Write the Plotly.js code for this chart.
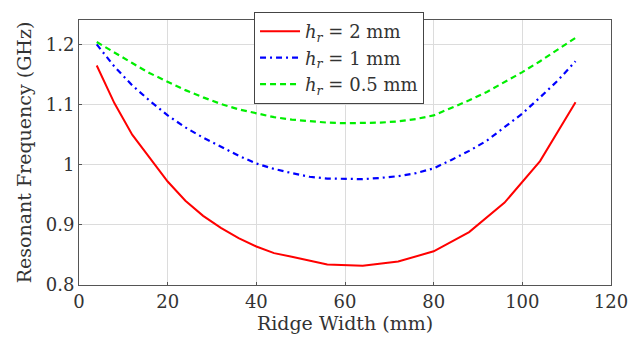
<!DOCTYPE html>
<html>
<head>
<meta charset="utf-8">
<script src="https://cdn.plot.ly/plotly-3.0.1.min.js"></script>
<style>html,body{margin:0;padding:0;background:#fff;}#chart{width:630px;height:340px;}</style>
</head>
<body>
<div id="chart"></div>
<script>
const xRed = [4, 8, 12, 16, 20, 24, 28, 32, 36, 40, 44, 48, 52, 56, 64, 72, 80, 88, 96, 104, 112];
const yRed = [1.165, 1.102, 1.050, 1.010, 0.972, 0.940, 0.915, 0.895, 0.878, 0.864, 0.853, 0.847, 0.840, 0.834, 0.832, 0.839, 0.856, 0.888, 0.937, 1.006, 1.104];

const xBlue = [4, 8, 12, 16, 20, 24, 28, 32, 36, 40, 44, 48, 52, 56, 60, 64, 68, 72, 76, 80, 84, 88, 92, 96, 100, 104, 108, 112];
const yBlue = [1.200, 1.163, 1.132, 1.106, 1.082, 1.062, 1.045, 1.030, 1.015, 1.002, 0.993, 0.986, 0.980, 0.977, 0.976, 0.976, 0.978, 0.981, 0.986, 0.994, 1.008, 1.023, 1.040, 1.062, 1.085, 1.112, 1.140, 1.172];

const xGreen = [4, 8, 12, 16, 20, 24, 28, 32, 36, 40, 44, 48, 52, 56, 60, 64, 68, 72, 76, 80, 84, 88, 92, 96, 100, 104, 108, 112];
const yGreen = [1.204, 1.186, 1.169, 1.152, 1.138, 1.124, 1.112, 1.101, 1.092, 1.085, 1.079, 1.075, 1.072, 1.070, 1.069, 1.069, 1.070, 1.072, 1.076, 1.082, 1.094, 1.107, 1.121, 1.137, 1.154, 1.172, 1.191, 1.211];

const names = ["<i>h</i><sub><i>r</i></sub> = 2 mm", "<i>h</i><sub><i>r</i></sub> = 1 mm", "<i>h</i><sub><i>r</i></sub> = 0.5 mm"];
const xTicks = [0, 20, 40, 60, 80, 100, 120];
const yTicks = [0.8, 0.9, 1, 1.1, 1.2];
const yTickText = ["0.8", "0.9", "1", "1.1", "1.2"];

const FONT = "DejaVu Serif";

const traces = [
  {x: xRed, y: yRed, name: names[0], mode: "lines", line: {color: "#ff0000", width: 2, dash: "solid"}},
  {x: xBlue, y: yBlue, name: names[1], mode: "lines", line: {color: "#0000ff", width: 2.2, dash: "6px,4px,2px,4px"}},
  {x: xGreen, y: yGreen, name: names[2], mode: "lines", line: {color: "#00ee00", width: 2.2, dash: "6px,4px"}}
];

const layout = {
  width: 630, height: 340,
  margin: {l: 79, r: 19, t: 17, b: 55},
  paper_bgcolor: "#fff", plot_bgcolor: "#fff",
  font: {family: FONT, size: 18, color: "#333"},
  showlegend: true,
  legend: {
    x: 0.329, y: 1.03, xanchor: "left", yanchor: "top",
    bgcolor: "#fff", bordercolor: "#444", borderwidth: 1,
    font: {family: FONT, size: 18, color: "#333"},
    itemwidth: 40, tracegroupgap: 0
  },
  xaxis: {
    range: [0, 120], tickvals: xTicks, ticktext: xTicks.map(String),
    showgrid: true, gridcolor: "#dcdcdc", gridwidth: 1,
    showline: true, linecolor: "#555", linewidth: 1, mirror: true,
    ticks: "inside", ticklen: 3, tickcolor: "#555",
    zeroline: false,
    tickfont: {family: FONT, size: 18, color: "#333"},
    title: {text: "Ridge Width (mm)", font: {family: FONT, size: 19, color: "#333"}, standoff: 1}
  },
  yaxis: {
    range: [0.8, 1.2406], tickvals: yTicks, ticktext: yTickText,
    showgrid: true, gridcolor: "#dcdcdc", gridwidth: 1,
    showline: true, linecolor: "#555", linewidth: 1, mirror: true,
    ticks: "inside", ticklen: 3, tickcolor: "#555",
    zeroline: false,
    tickfont: {family: FONT, size: 18, color: "#333"},
    title: {text: "Resonant Frequency (GHz)", font: {family: FONT, size: 19, color: "#333"}, standoff: 9}
  }
};

Plotly.newPlot("chart", traces, layout, {staticPlot: true, displayModeBar: false});
</script>
</body>
</html>
